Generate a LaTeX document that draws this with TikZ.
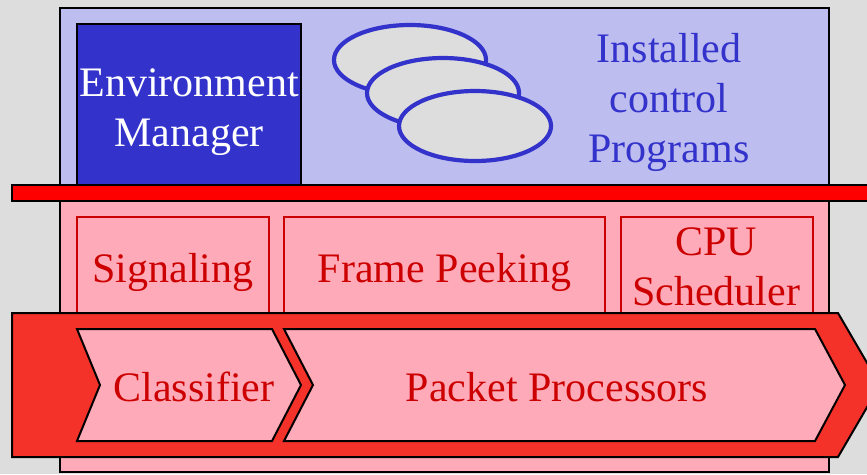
\documentclass[tikz,border=0pt]{standalone}
\usepackage{fontspec}
\setmainfont{Liberation Serif}
\definecolor{bggray}{RGB}{221,221,221}
\definecolor{lavender}{RGB}{189,189,239}
\definecolor{emblue}{RGB}{51,51,204}
\definecolor{pinkfill}{RGB}{255,170,185}
\definecolor{darkred}{RGB}{204,0,0}
\definecolor{bandred}{RGB}{244,50,42}
\begin{document}
\begin{tikzpicture}[x=1pt,y=-1pt,
  bigtext/.style={font=\fontsize{42}{50}\selectfont, inner sep=0pt, align=center},
  outerbox/.style={draw=black, line width=1.5pt},
  innerbox/.style={draw=darkred, fill=pinkfill, line width=1.8pt},
  chevron/.style={draw=black, fill=pinkfill, line width=2pt, line join=miter},
  redtext/.style={bigtext, text=darkred},
]
\useasboundingbox (0,0) rectangle (867,474);
\fill[bggray] (0,0) rectangle (867,474);
% top lavender panel
\draw[outerbox, fill=lavender] (60,8) rectangle (829,185);
% lower pink panel
\draw[outerbox, fill=pinkfill] (60,201) rectangle (829,472);
% environment manager
\draw[black, line width=2pt, fill=emblue] (77,24) rectangle (301,185);
\node[bigtext, text=white] (em) at (189,112) {Environment\\Manager};
% ellipses (installed programs)
\draw[emblue, line width=4.2pt, fill=bggray] (410,60) ellipse [x radius=76, y radius=35];
\draw[emblue, line width=4.2pt, fill=bggray] (443,93) ellipse [x radius=76, y radius=35];
\draw[emblue, line width=4.2pt, fill=bggray] (475,126) ellipse [x radius=76, y radius=35];
\node[bigtext, text=emblue] (inst) at (669,102) {Installed\\control\\Programs};
% red bar
\draw[black, line width=2pt, fill=red] (12,185) rectangle (875,201);
% middle boxes
\draw[innerbox] (77,217) rectangle (269,318);
\draw[innerbox] (284,217) rectangle (605,318);
\draw[innerbox] (621,217) rectangle (813,318);
\node[redtext, anchor=base] (sig) at (173,282) {Signaling};
\node[redtext, anchor=base] (fp) at (444.5,282) {Frame Peeking};
\node[redtext] (cpu) at (716,267) {CPU\\Scheduler};
% arrow band
\draw[black, line width=2pt, fill=bandred, line join=miter]
  (12,313) -- (838,313) -- (880,385) -- (838,457) -- (12,457) -- cycle;
% chevrons
\draw[chevron] (77,329) -- (272,329) -- (301,385) -- (272,441) -- (77,441) -- (100,385) -- cycle;
\draw[chevron] (284,329) -- (815,329) -- (845,385) -- (815,441) -- (284,441) -- (313,385) -- cycle;
\node[redtext, anchor=base] (cls) at (194,401.5) {Classifier};
\node[redtext, anchor=base] (pp) at (557,401.5) {Packet Processors};
\end{tikzpicture}
\end{document}
